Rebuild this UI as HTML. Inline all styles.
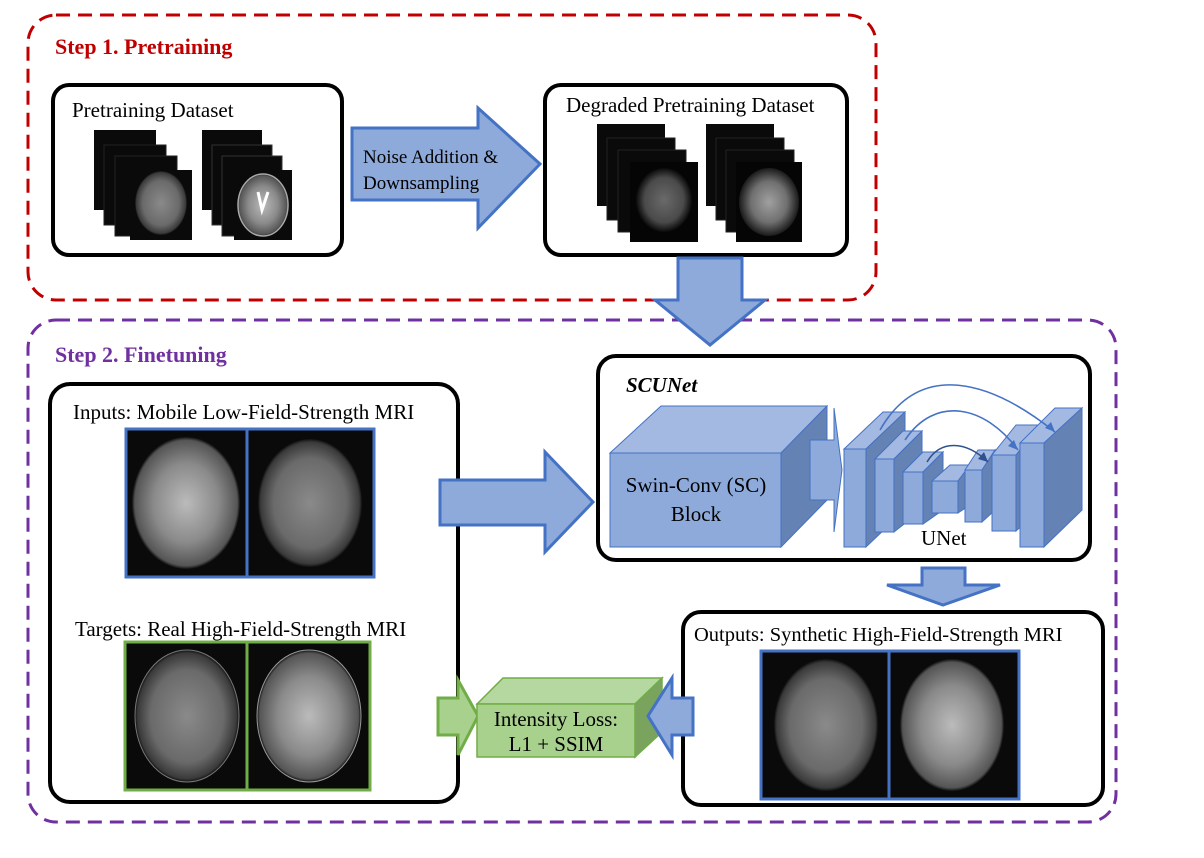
<!DOCTYPE html>
<html><head><meta charset="utf-8"><style>
html,body{margin:0;padding:0;background:#fff;}
svg{display:block;font-family:"Liberation Serif",serif;}
</style></head><body>
<svg width="1204" height="858" viewBox="0 0 1204 858" xmlns="http://www.w3.org/2000/svg">
<defs>
<radialGradient id="b1" cx="50%" cy="50%" r="50%"><stop offset="0" stop-color="#8a8a8a"/><stop offset="0.7" stop-color="#6a6a6a"/><stop offset="0.95" stop-color="#3a3a3a"/><stop offset="1" stop-color="#111"/></radialGradient>
<radialGradient id="b2" cx="50%" cy="50%" r="50%"><stop offset="0" stop-color="#bbb"/><stop offset="0.6" stop-color="#8a8a8a"/><stop offset="0.95" stop-color="#555"/><stop offset="1" stop-color="#111"/></radialGradient>
<radialGradient id="b3" cx="50%" cy="50%" r="50%"><stop offset="0" stop-color="#6a6a6a"/><stop offset="0.7" stop-color="#4a4a4a"/><stop offset="1" stop-color="#0a0a0a"/></radialGradient>
<radialGradient id="b4" cx="50%" cy="50%" r="50%"><stop offset="0" stop-color="#a0a0a0"/><stop offset="0.6" stop-color="#707070"/><stop offset="1" stop-color="#1a1a1a"/></radialGradient>
</defs>

<!-- Step 1 -->
<rect x="28" y="15" width="848" height="285" rx="28" fill="none" stroke="#c00000" stroke-width="3" stroke-dasharray="14,8"/>
<text x="55" y="54" font-size="22" font-weight="bold" fill="#c00000">Step 1. Pretraining</text>

<rect x="53" y="85" width="289" height="170" rx="16" fill="#fff" stroke="#000" stroke-width="4"/>
<text x="72" y="117" font-size="21">Pretraining Dataset</text>
<g>
<rect x="94" y="130" width="62" height="80" fill="#0a0a0a"/>
<rect x="104" y="145" width="62" height="80" fill="#0a0a0a" stroke="#222"/>
<rect x="115" y="156" width="62" height="80" fill="#0a0a0a" stroke="#222"/>
<rect x="130" y="170" width="62" height="70" fill="#0a0a0a"/>
<ellipse cx="161" cy="203" rx="26" ry="32" fill="url(#b1)"/>
<rect x="202" y="130" width="60" height="80" fill="#0a0a0a"/>
<rect x="212" y="145" width="60" height="80" fill="#0a0a0a" stroke="#333"/>
<rect x="222" y="156" width="60" height="80" fill="#0a0a0a" stroke="#333"/>
<rect x="234" y="170" width="58" height="70" fill="#0a0a0a"/>
<ellipse cx="263" cy="205" rx="25" ry="31" fill="url(#b2)" stroke="#aaa" stroke-width="1.5"/>
<path d="M258 192 L262 210 L268 192" stroke="#fff" stroke-width="3" fill="none"/>
</g>

<path d="M352 128 H478 V108 L540 164 L478 228 V200 H352 Z" fill="#8eaadb" stroke="#4472c4" stroke-width="3"/>
<text x="363" y="163" font-size="19">Noise Addition &amp;</text>
<text x="363" y="189" font-size="19">Downsampling</text>

<rect x="545" y="85" width="302" height="170" rx="16" fill="#fff" stroke="#000" stroke-width="4"/>
<text x="566" y="112" font-size="21">Degraded Pretraining Dataset</text>
<g>
<rect x="597" y="124" width="68" height="82" fill="#0a0a0a"/>
<rect x="607" y="138" width="68" height="82" fill="#0a0a0a" stroke="#222"/>
<rect x="618" y="150" width="68" height="82" fill="#0a0a0a" stroke="#222"/>
<rect x="630" y="162" width="68" height="80" fill="#050505"/>
<ellipse cx="664" cy="200" rx="28" ry="32" fill="url(#b3)"/>
<rect x="706" y="124" width="68" height="82" fill="#0a0a0a"/>
<rect x="716" y="138" width="68" height="82" fill="#0a0a0a" stroke="#222"/>
<rect x="726" y="150" width="68" height="82" fill="#0a0a0a" stroke="#222"/>
<rect x="736" y="162" width="66" height="80" fill="#050505"/>
<ellipse cx="769" cy="202" rx="30" ry="34" fill="url(#b4)"/>
</g>

<!-- Step 2 -->
<rect x="28" y="320" width="1088" height="502" rx="28" fill="none" stroke="#7030a0" stroke-width="3" stroke-dasharray="14,8"/>
<text x="55" y="362" font-size="22" font-weight="bold" fill="#7030a0">Step 2. Finetuning</text>

<path d="M678 258 H742 V300 H765 L710 345 L655 300 H678 Z" fill="#8eaadb" stroke="#4472c4" stroke-width="3"/>

<!-- Inputs box -->
<rect x="50" y="384" width="408" height="418" rx="20" fill="#fff" stroke="#000" stroke-width="4"/>
<text x="73" y="419" font-size="21">Inputs: Mobile Low-Field-Strength MRI</text>
<rect x="126" y="429" width="248" height="148" fill="#0a0a0a" stroke="#4472c4" stroke-width="3"/>
<line x1="247" y1="429" x2="247" y2="577" stroke="#4472c4" stroke-width="3"/>
<ellipse cx="186" cy="503" rx="54" ry="66" fill="url(#b2)"/>
<ellipse cx="310" cy="503" rx="52" ry="64" fill="url(#b1)"/>
<text x="75" y="636" font-size="21">Targets: Real High-Field-Strength MRI</text>
<rect x="125" y="642" width="245" height="148" fill="#0a0a0a" stroke="#70ad47" stroke-width="3"/>
<line x1="247" y1="642" x2="247" y2="790" stroke="#70ad47" stroke-width="3"/>
<ellipse cx="187" cy="716" rx="52" ry="66" fill="url(#b1)" stroke="#777"/>
<ellipse cx="309" cy="716" rx="52" ry="66" fill="url(#b2)" stroke="#999"/>

<path d="M440 480 H545 V452 L593 502 L545 552 V525 H440 Z" fill="#8eaadb" stroke="#4472c4" stroke-width="3"/>

<!-- SCUNet -->
<rect x="598" y="356" width="492" height="204" rx="18" fill="#fff" stroke="#000" stroke-width="4"/>
<text x="626" y="392" font-size="21" font-weight="bold" font-style="italic">SCUNet</text>
<g stroke="#4472c4" stroke-width="1">
<polygon points="610,453 661,406 827,406 781,453" fill="#a3b9e2"/>
<polygon points="781,453 827,406 827,500 781,547" fill="#6582b4"/>
<rect x="610" y="453" width="171" height="94" fill="#8eaadb"/>
<path d="M810 440 H834 V408 L842 470 L834 532 V500 H810 Z" fill="#8eaadb"/>
<polygon points="844,449 883,412 905,412 866,449" fill="#a3b9e2"/><polygon points="866,449 905,412 905,510 866,547" fill="#6582b4"/><rect x="844" y="449" width="22" height="98" fill="#8eaadb"/>
<polygon points="875,459 903,431 922,431 894,459" fill="#a3b9e2"/><polygon points="894,459 922,431 922,510 894,532" fill="#6582b4"/><rect x="875" y="459" width="19" height="73" fill="#8eaadb"/>
<polygon points="903,472 923,452 943,452 923,472" fill="#a3b9e2"/><polygon points="923,472 943,452 943,510 923,524" fill="#6582b4"/><rect x="903" y="472" width="20" height="52" fill="#8eaadb"/>
<polygon points="932,481 950,465 970,465 958,481" fill="#a3b9e2"/><polygon points="958,481 970,465 970,505 958,513" fill="#6582b4"/><rect x="932" y="481" width="26" height="32" fill="#8eaadb"/>
<polygon points="965,470 978,450 995,450 982,470" fill="#a3b9e2"/><polygon points="982,470 995,450 995,510 982,522" fill="#6582b4"/><rect x="965" y="470" width="17" height="52" fill="#8eaadb"/>
<polygon points="992,455 1016,425 1040,425 1016,455" fill="#a3b9e2"/><polygon points="1016,455 1040,425 1040,510 1016,531" fill="#6582b4"/><rect x="992" y="455" width="24" height="76" fill="#8eaadb"/>
<polygon points="1020,443 1055,408 1082,408 1044,443" fill="#a3b9e2"/><polygon points="1044,443 1082,408 1082,510 1044,547" fill="#6582b4"/><rect x="1020" y="443" width="24" height="104" fill="#8eaadb"/>
</g>
<text x="696" y="492" font-size="21" text-anchor="middle">Swin-Conv (SC)</text>
<text x="696" y="521" font-size="21" text-anchor="middle">Block</text>
<g fill="none" stroke="#4472c4" stroke-width="1.6">
<path d="M880 430 C 920 360, 990 380, 1055 432"/>
<path d="M905 440 C 935 395, 985 405, 1018 450"/>
<path d="M927 462 C 940 440, 965 440, 988 462" stroke="#2f528f"/>
</g>
<g fill="#4472c4">
<polygon points="1055,432 1045,428 1051,422"/>
<polygon points="1018,450 1008,446 1014,440"/>
<polygon points="988,462 978,459 984,452" fill="#2f528f"/>
</g>
<text x="921" y="545" font-size="21">UNet</text>

<path d="M922 568 H965 V585 H1000 L943 605 L887 585 H922 Z" fill="#8eaadb" stroke="#4472c4" stroke-width="3"/>

<!-- Outputs -->
<rect x="683" y="612" width="420" height="193" rx="18" fill="#fff" stroke="#000" stroke-width="4"/>
<text x="694" y="641" font-size="20.5">Outputs: Synthetic High-Field-Strength MRI</text>
<rect x="761" y="651" width="258" height="148" fill="#0a0a0a" stroke="#4472c4" stroke-width="3"/>
<line x1="889" y1="651" x2="889" y2="799" stroke="#4472c4" stroke-width="3"/>
<ellipse cx="826" cy="725" rx="52" ry="66" fill="url(#b1)"/>
<ellipse cx="952" cy="725" rx="52" ry="66" fill="url(#b2)"/>

<!-- Loss -->
<path d="M438 698 H458 V680 L478 716 L458 755 V735 H438 Z" fill="#a9d18e" stroke="#70ad47" stroke-width="3"/>
<polygon points="477,704 503,678 662,678 635,704" fill="#b5d7a0" stroke="#70ad47" stroke-width="1.5"/>
<polygon points="635,704 662,678 662,732 635,757" fill="#7aa35e" stroke="#70ad47" stroke-width="1.5"/>
<rect x="477" y="704" width="158" height="53" fill="#a9d18e" stroke="#70ad47" stroke-width="1.5"/>
<text x="556" y="726" font-size="21" text-anchor="middle">Intensity Loss:</text>
<text x="556" y="751" font-size="21" text-anchor="middle">L1 + SSIM</text>
<path d="M693 698 H672 V678 L648 716 L672 755 V735 H693 Z" fill="#8eaadb" stroke="#4472c4" stroke-width="3"/>
</svg>
</body></html>
